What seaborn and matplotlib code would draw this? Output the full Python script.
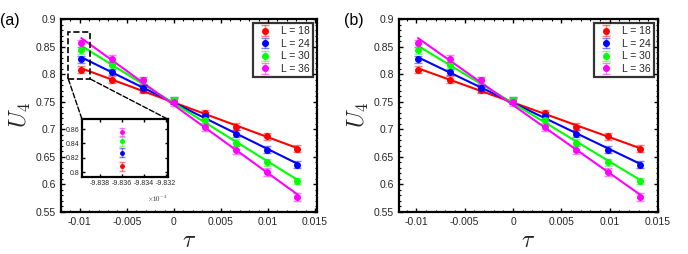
import numpy as np
import pandas as pd
import matplotlib as mpl
import matplotlib.pyplot as plt
import seaborn as sb
from matplotlib.patches import Rectangle, ConnectionPatch
from matplotlib.ticker import MultipleLocator

mpl.use('Agg')

# reduced temperature values
tau = [-0.009836, -0.006557, -0.003279, 0.0, 0.003279, 0.006557, 0.009836, 0.013115]

sizes = [18, 24, 30, 36]
u4_L18 = [0.808, 0.790, 0.771, 0.751, 0.729, 0.705, 0.687, 0.665]
u4_L24 = [0.827, 0.804, 0.774, 0.752, 0.725, 0.692, 0.663, 0.636]
u4_L30 = [0.843, 0.816, 0.789, 0.753, 0.716, 0.676, 0.640, 0.606]
u4_L36 = [0.856, 0.828, 0.789, 0.749, 0.704, 0.663, 0.623, 0.577]
err_L18 = [0.006, 0.006, 0.006, 0.006, 0.006, 0.006, 0.006, 0.006]
err_L24 = [0.006, 0.006, 0.006, 0.006, 0.006, 0.006, 0.006, 0.006]
err_L30 = [0.006, 0.006, 0.006, 0.006, 0.006, 0.006, 0.006, 0.006]
err_L36 = [0.006, 0.006, 0.006, 0.006, 0.007, 0.007, 0.007, 0.007]

colours = ['#ff0000', '#0000ff', '#00ff00', '#ff00ff']

rows = []
for L, u, e in zip(sizes, [u4_L18, u4_L24, u4_L30, u4_L36],
                   [err_L18, err_L24, err_L30, err_L36]):
    for t, v, s in zip(tau, u, e):
        rows.append({'tau': t, 'U4': v, 'err': s, 'L': L})
df = pd.DataFrame(rows)

sb.set_theme(style="ticks")
plt.rcParams['font.family'] = ['Liberation Sans', 'DejaVu Sans']
plt.rcParams['mathtext.fontset'] = 'cm'

ink = '#262626'


def style_axes(ax, fs=7.5):
    for sp in ax.spines.values():
        sp.set_linewidth(1.6)
        sp.set_color('black')
    ax.tick_params(which='both', direction='in', top=True, right=True,
                   labelsize=fs, labelcolor=ink, color='black')
    ax.tick_params(which='major', length=3, width=1)
    ax.tick_params(which='minor', length=1.5, width=0.8)
    ax.set_facecolor('white')


def draw_points(ax, ms=4, capsize=3, label=True):
    for L, c in zip(sizes, colours):
        d = df[df['L'] == L]
        eb = ax.errorbar(d['tau'], d['U4'], yerr=d['err'], fmt='o', color=c,
                         ms=ms, ecolor=c, elinewidth=1.0, capsize=capsize,
                         capthick=1.0, label='L = {}'.format(L) if label else None,
                         zorder=3)
        for part in eb[1] + eb[2]:
            part.set_alpha(0.5)


def main_panel(ax):
    for L, c in zip(sizes, colours):
        d = df[df['L'] == L]
        sb.regplot(x='tau', y='U4', data=d, ax=ax, scatter=False, ci=None,
                   truncate=True, color=c, line_kws={'linewidth': 1.5, 'zorder': 2})
    draw_points(ax)
    ax.set_xlim(-0.012, 0.0152)
    ax.set_ylim(0.55, 0.9)
    ax.set_xticks([-0.01, -0.005, 0, 0.005, 0.01, 0.015])
    ax.set_xticklabels(['-0.01', '-0.005', '0', '0.005', '0.01', '0.015'])
    ax.set_yticks([0.55, 0.6, 0.65, 0.7, 0.75, 0.8, 0.85, 0.9])
    ax.set_yticklabels(['0.55', '0.6', '0.65', '0.7', '0.75', '0.8', '0.85', '0.9'])
    ax.xaxis.set_minor_locator(MultipleLocator(0.001))
    ax.yaxis.set_minor_locator(MultipleLocator(0.01))
    style_axes(ax)
    ax.set_xlabel(r'$\tau$', fontsize=17, labelpad=2)
    ax.set_ylabel(r'$U_4$', fontsize=17, labelpad=2)
    leg = ax.legend(loc='upper right', fontsize=7.5, frameon=True, fancybox=False,
                    borderpad=0.3, handletextpad=0.6, labelspacing=0.25,
                    handlelength=1.8, borderaxespad=0.4)
    leg.get_frame().set_edgecolor('black')
    leg.get_frame().set_linewidth(1.6)


fig = plt.figure(figsize=(6.88, 2.54), dpi=100)
fig.patch.set_facecolor('white')

ax_a = fig.add_axes([61 / 688, 1 - 212 / 254, 256 / 688, 193 / 254])
ax_b = fig.add_axes([399 / 688, 1 - 212 / 254, 259 / 688, 193 / 254])
main_panel(ax_a)
main_panel(ax_b)
ax_b.set_xlim(-0.0118, 0.015)

fig.text(0.0, 1 - 20 / 254, '(a)', fontsize=11.5, va='center', ha='left', color='black')
fig.text(344 / 688, 1 - 20 / 254, '(b)', fontsize=11.5, va='center', ha='left', color='black')

# zoom box in panel (a)
rect = Rectangle((-0.01122, 0.791), 0.00235, 0.086, fill=False, edgecolor='black',
                 linestyle='--', linewidth=1.2, zorder=4)
ax_a.add_patch(rect)

ins = fig.add_axes([82 / 688, 1 - 177.3 / 254, 86 / 688, 58 / 254])
draw_points(ins, ms=2.5, capsize=2.5, label=False)
ins.set_xlim(-0.0098396, -0.0098318)
ins.set_ylim(0.793, 0.8735)
ins.set_xticks([-0.009838, -0.009836, -0.009834, -0.009832])
ins.set_xticklabels(['-9.838', '-9.836', '-9.834', '-9.832'])
ins.set_yticks([0.8, 0.82, 0.84, 0.86])
ins.set_yticklabels(['0.8', '0.82', '0.84', '0.86'])
style_axes(ins, fs=5)
ins.tick_params(which='major', length=2, pad=2)
ins.text(1.0, -0.38, r'$\times10^{-3}$', transform=ins.transAxes, fontsize=5,
         ha='right', va='center', color=ink)

for xa, xb in [(-0.01122, 0.0), (-0.00887, 1.0)]:
    con = ConnectionPatch(xyA=(xa, 0.791), coordsA=ax_a.transData,
                          xyB=(xb, 1.0), coordsB=ins.transAxes,
                          linestyle='--', color='black', linewidth=1.0)
    fig.add_artist(con)

fig.savefig('out.png', dpi=100)
